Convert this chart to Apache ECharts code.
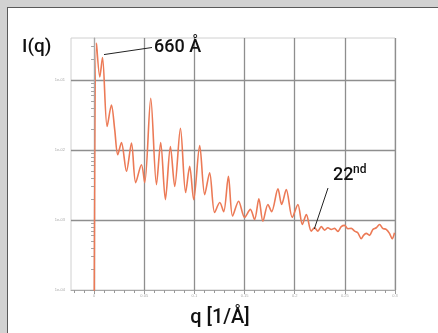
<!DOCTYPE html>
<html>
<head>
<meta charset="utf-8">
<script src="https://cdn.jsdelivr.net/npm/echarts@6/dist/echarts.min.js"></script>
<style>
html, body { margin: 0; padding: 0; background: #d2d2d2; }
#panel { position: absolute; left: 7px; top: 7px; width: 440px; height: 340px; background: #fff; border: 1px solid #5a5a5a; }
#chart { position: absolute; left: 0; top: 0; width: 438px; height: 333px; }
</style>
</head>
<body>
<div id="panel"></div>
<div id="chart"></div>
<script>
// scattering curve: q in 1/Å, I(q) arbitrary units
var qValues = [
  0.0000, 0.0024, 0.0057, 0.0084, 0.0130, 0.0173, 0.0206, 0.0236, 0.0273, 0.0323,
  0.0373, 0.0415, 0.0472, 0.0505, 0.0565, 0.0622, 0.0664, 0.0711, 0.0761, 0.0804,
  0.0861, 0.0913, 0.0953, 0.0993, 0.1053, 0.1103, 0.1152, 0.1202, 0.1253, 0.1292,
  0.1339, 0.1381, 0.1441, 0.1501, 0.1558, 0.1600, 0.1643, 0.1683, 0.1733, 0.1770,
  0.1833, 0.1870, 0.1916, 0.1976, 0.2032, 0.2076, 0.2116, 0.2165, 0.2198, 0.2231,
  0.2265, 0.2298, 0.2331, 0.2365, 0.2397, 0.2430, 0.2464, 0.2497, 0.2530, 0.2564,
  0.2597, 0.2629, 0.2663, 0.2686, 0.2713, 0.2746, 0.2779, 0.2813, 0.2846, 0.2878,
  0.2912, 0.2945, 0.2972, 0.2995
];
var intensity = [
  0.00001, 0.34, 0.111, 0.21, 0.0217, 0.044, 0.0195, 0.0086, 0.0128, 0.00497,
  0.0126, 0.00343, 0.00618, 0.00343, 0.055, 0.00321, 0.0128, 0.00196, 0.0112, 0.00303,
  0.0205, 0.00247, 0.00585, 0.00196, 0.0116, 0.00231, 0.00475, 0.00128, 0.00178, 0.00132,
  0.00422, 0.00114, 0.00186, 0.00109, 0.00142, 0.00102, 0.00201, 0.00096, 0.00167, 0.00132,
  0.00279, 0.00167, 0.00272, 0.00109, 0.00167, 0.000865, 0.0012, 0.000695, 0.000776, 0.000695,
  0.000804, 0.000718, 0.000776, 0.000734, 0.00076, 0.000689, 0.000804, 0.000838, 0.000752, 0.00076,
  0.000695, 0.000659, 0.000542, 0.000604, 0.000644, 0.000604, 0.000734, 0.000776, 0.000865, 0.00076,
  0.000734, 0.000644, 0.000542, 0.000659
];
var xTickLabels = [0, 0.05, 0.1, 0.15, 0.2, 0.25, 0.3];
var xMinorTicks = [-0.02, -0.01, 0, 0.01, 0.02, 0.03, 0.04, 0.05, 0.06, 0.07, 0.08, 0.09, 0.1,
  0.11, 0.12, 0.13, 0.14, 0.15, 0.16, 0.17, 0.18, 0.19, 0.2, 0.21, 0.22, 0.23, 0.24, 0.25,
  0.26, 0.27, 0.28, 0.29, 0.3];
var yDecades = [1e-4, 1e-3, 1e-2, 1e-1];
var yMinorTicks = [];
yDecades.forEach(function (d) {
  for (var k = 2; k <= 9; k++) { if (d * k < 0.4) yMinorTicks.push(d * k); }
});

var lineColor = '#ec7a56';
var gridColor = '#8e8e8e';

var chart = echarts.init(document.getElementById('chart'));
var option = {
  animation: false,
  grid: {
    left: 71, right: 43, top: 38, bottom: 43,
    show: true, borderColor: '#d0d0d0', borderWidth: 1
  },
  xAxis: [{
    type: 'value', min: -0.023, max: 0.3,
    axisLine: { lineStyle: { color: '#a8a8a8' } },
    axisTick: { customValues: xTickLabels, length: 4, lineStyle: { color: '#999' } },
    splitLine: { show: true, lineStyle: { color: gridColor, width: 1.3 } },
    axisLabel: {
      customValues: xTickLabels, fontSize: 4, color: '#aaa', margin: 4,
      formatter: function (v) { return String(v); }
    }
  }, {
    type: 'value', min: -0.023, max: 0.3, position: 'bottom',
    axisLine: { show: false },
    axisTick: { customValues: xMinorTicks, length: 3, lineStyle: { color: '#9a9a9a' } },
    axisLabel: { show: false },
    splitLine: { show: false }
  }],
  yAxis: [{
    type: 'log', logBase: 10, min: 1e-4, max: 0.4,
    axisLine: { show: true, lineStyle: { color: '#a8a8a8' } },
    axisTick: { show: true, length: 4, lineStyle: { color: '#999' } },
    splitLine: { show: true, showMaxLine: false, showMinLine: false, lineStyle: { color: gridColor, width: 1.3 } },
    axisLabel: {
      fontSize: 4, color: '#aaa', margin: 6, showMaxLabel: false,
      formatter: function (v) {
        var e = Math.round(Math.log10(v));
        return '1e' + (e < 0 ? '-' : '+') + (Math.abs(e) < 10 ? '0' : '') + Math.abs(e);
      }
    }
  }, {
    type: 'log', logBase: 10, min: 1e-4, max: 0.4, position: 'left',
    axisLine: { show: false },
    axisTick: { show: true, customValues: yMinorTicks, length: 3, lineStyle: { color: '#a5a5a5' } },
    axisLabel: { show: false },
    splitLine: { show: false }
  }],
  series: [{
    type: 'line',
    xAxisIndex: 0, yAxisIndex: 0,
    data: qValues.map(function (q, i) { return [q, intensity[i]]; }),
    showSymbol: false,
    smooth: 0.3,
    clip: true,
    lineStyle: { color: lineColor, width: 1.6 },
    z: 5
  }]
};
chart.setOption(option);

// annotations anchored to the curve
var peak660 = chart.convertToPixel({ gridIndex: 0 }, [qValues[3], intensity[3]]);
var peak22 = chart.convertToPixel({ gridIndex: 0 }, [qValues[47], intensity[47]]);
var font = 'Roboto, "Liberation Sans", Arial, sans-serif';
chart.setOption({
  graphic: [
    { type: 'line', shape: { x1: peak660[0] + 1.5, y1: peak660[1] - 3, x2: 152, y2: 47.5 },
      style: { stroke: '#222', lineWidth: 1 }, z: 10 },
    { type: 'text', x: 154, y: 47, z: 10,
      style: { text: '660 Å', font: '500 18px ' + font, fill: '#111', textVerticalAlign: 'middle' } },
    { type: 'line', shape: { x1: peak22[0] + 3, y1: peak22[1] - 2, x2: 328, y2: 188 },
      style: { stroke: '#222', lineWidth: 1 }, z: 10 },
    { type: 'text', x: 333, y: 175, z: 10,
      style: { text: '22', font: '500 18px ' + font, fill: '#111', textVerticalAlign: 'middle' } },
    { type: 'text', x: 353, y: 170, z: 10,
      style: { text: 'nd', font: '500 12px ' + font, fill: '#111', textVerticalAlign: 'middle' } },
    { type: 'text', x: 22, y: 47, z: 10,
      style: { text: 'I(q)', font: '500 19px ' + font, fill: '#111', textVerticalAlign: 'middle' } },
    { type: 'text', x: 220, y: 318, z: 10,
      style: { text: 'q [1/Å]', font: '500 20px ' + font, fill: '#111', textAlign: 'center', textVerticalAlign: 'middle' } }
  ]
});
</script>
</body>
</html>
